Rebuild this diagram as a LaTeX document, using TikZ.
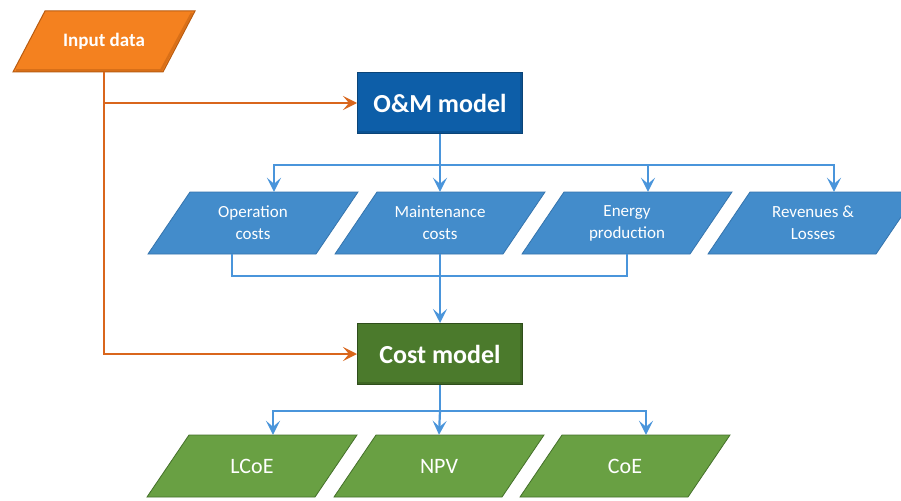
\documentclass[tikz,border=0pt]{standalone}
\usepackage{fontspec}
\setmainfont{Carlito}
\usetikzlibrary{arrows.meta,calc}
\definecolor{orfill}{HTML}{F4811F}
\definecolor{ordraw}{HTML}{B85B10}
\definecolor{orline}{HTML}{D9661C}
\definecolor{omfill}{HTML}{0D5EA8}
\definecolor{omdraw}{HTML}{0A4478}
\definecolor{bpfill}{HTML}{438CCB}
\definecolor{bpdraw}{HTML}{3574AD}
\definecolor{bline}{HTML}{4A95DB}
\definecolor{cmfill}{HTML}{4B7A2C}
\definecolor{cmdraw}{HTML}{2F4E1B}
\definecolor{gpfill}{HTML}{69A043}
\definecolor{gpdraw}{HTML}{44702A}
\tikzset{
  inshape/.style={fill=orfill,draw=ordraw,line width=1pt},
  intext/.style={text=white,font=\bfseries\fontsize{19}{22}\selectfont,minimum width=120pt,minimum height=61pt,inner sep=0pt},
  modelbox/.style={text=white,font=\bfseries\fontsize{26}{30}\selectfont,minimum width=165pt,minimum height=61pt,inner sep=0pt,line width=1pt},
  ombox/.style={modelbox,fill=omfill,draw=omdraw},
  cmbox/.style={modelbox,fill=cmfill,draw=cmdraw},
  innershade/.style={line width=2.5pt,opacity=0.45},
  bpshape/.style={fill=bpfill,draw=bpdraw,line width=0.8pt},
  gpshape/.style={fill=gpfill,draw=gpdraw,line width=0.8pt},
  ptext/.style={text=white,align=center,minimum width=126pt,minimum height=62pt,inner sep=0pt,font=\fontsize{17}{22}\selectfont},
  gtext/.style={ptext,font=\fontsize{22}{26}\selectfont},
  oconn/.style={draw=orline,line width=2.2pt},
  oarrow/.style={oconn,-{Stealth[length=14pt,width=14pt,inset=6pt]}},
  bconn/.style={draw=bline,line width=2.2pt},
  barrow/.style={bconn,-{Stealth[length=14pt,width=14pt,inset=6pt]}},
}
\begin{document}
\begin{tikzpicture}[x=1pt,y=-1pt]
\clip (0,0) rectangle (901,500);
\fill[white] (0,0) rectangle (901,500);
% input data
\path[inshape] (104-59,11) -- (104+91,11) -- (104+59,72) -- (104-91,72) -- cycle;
\draw[innershade,draw=ordraw] (104+88,13) -- (104+57,70.5) -- (104-88,70.5);
\node[intext] (input) at (104,41.5) {Input data};
% models
\node[ombox] (om) at (440,103) {O\&M model};
\draw[innershade,draw=omdraw] ([shift={(-2,1)}]om.north east) -- ([shift={(-2,-2)}]om.south east) -- ([shift={(1,-2)}]om.south west);
\node[cmbox] (cost) at (440,354) {Cost model};
\draw[innershade,draw=cmdraw] ([shift={(-2,1)}]cost.north east) -- ([shift={(-2,-2)}]cost.south east) -- ([shift={(1,-2)}]cost.south west);
% blue parallelograms row 1
\path[bpshape] (253-63,192) -- (253+105,192) -- (253+63,254) -- (253-105,254) -- cycle;
\node[ptext] (opc) at (253,223) {Operation\\costs};
\path[bpshape] (440-63,192) -- (440+105,192) -- (440+63,254) -- (440-105,254) -- cycle;
\node[ptext] (mnt) at (440,223) {Maintenance\\costs};
\path[bpshape] (627-63,192) -- (627+105,192) -- (627+63,254) -- (627-105,254) -- cycle;
\node[ptext] (enp) at (627,223) {Energy\\production};
\path[bpshape] (813-63,192) -- (813+105,192) -- (813+63,254) -- (813-105,254) -- cycle;
\node[ptext] (rev) at (813,223) {Revenues \&\\Losses};
% green parallelograms row 2
\path[gpshape] (252-63,435) -- (252+105,435) -- (252+63,497) -- (252-105,497) -- cycle;
\node[gtext] (lcoe) at (252,466) {LCoE};
\path[gpshape] (439-63,435) -- (439+105,435) -- (439+63,497) -- (439-105,497) -- cycle;
\node[gtext] (npv) at (439,466) {NPV};
\path[gpshape] (625-63,435) -- (625+105,435) -- (625+63,497) -- (625-105,497) -- cycle;
\node[gtext] (coe) at (625,466) {CoE};
% orange connectors
\draw[oarrow] (input.south) |- (om.west);
\draw[oarrow] (input.south) |- (cost.west);
% blue connectors from O&M
\draw[bconn] (om.south) -- ++(0,31) coordinate (j1);
\draw[barrow] (j1) -| ([xshift=21pt]opc.north);
\draw[barrow] (j1) -- (mnt.north);
\draw[barrow] (j1) -| ([xshift=21pt]enp.north);
\draw[barrow] (j1) -| ([xshift=21pt]rev.north);
% merge into cost model
\coordinate (j2) at (440,276);
\draw[bconn] ([xshift=-21pt]opc.south) |- (j2);
\draw[bconn] (enp.south) |- (j2);
\draw[barrow] (mnt.south) -- (cost.north);
% outputs
\draw[bconn] (cost.south) -- ++(0,26) coordinate (j3);
\draw[barrow] (j3) -| ([xshift=21pt]lcoe.north);
\draw[barrow] (j3) -- (npv.north);
\draw[barrow] (j3) -| ([xshift=21pt]coe.north);
\end{tikzpicture}
\end{document}
